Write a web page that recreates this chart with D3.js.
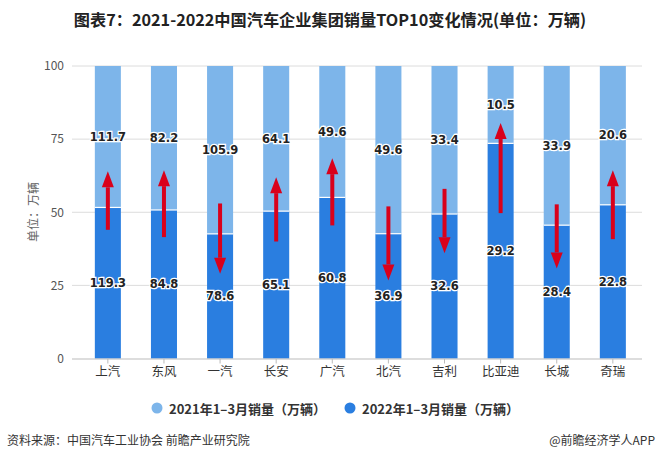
<!DOCTYPE html>
<html><head><meta charset="utf-8">
<script src="https://cdn.jsdelivr.net/npm/d3@7/dist/d3.min.js"></script>
<style>body{margin:0;background:#fff}svg{display:block}</style>
</head><body>
<svg id="c" width="659" height="462"></svg>
<script>
const categories = ["上汽","东风","一汽","长安","广汽","北汽","吉利","比亚迪","长城","奇瑞"];
const sales2021 = [111.7,82.2,105.9,64.1,49.6,49.6,33.4,10.5,33.9,20.6];
const sales2022 = [119.3,84.8,78.6,65.1,60.8,36.9,32.6,29.2,28.4,22.8];
const yTicks = [0,25,50,75,100];
// arrow annotations in percent units: [from, to]
const arrowFrom = [44,41.5,53,40,45.5,52,58,49.7,52.7,40.8];
const arrowTo   = [64,64.4,29,62,68.5,26.7,36,80.5,30.8,64.4];
const seriesNames = ["2021年1–3月销量（万辆）","2022年1–3月销量（万辆）"];
const colors = ["#7db5ea","#2a7ee0"];

const svg = d3.select("#c");
const font = "'Noto Sans CJK SC','Noto Sans',sans-serif";
svg.attr("font-family", font);

const x = d3.scaleBand().domain(categories).range([79.8,640.9]).paddingInner(0.536).paddingOuter(0.268);
const y = d3.scaleLinear().domain([0,100]).range([358.5,66]);

// title
svg.append("text").attr("x",330).attr("y",26).attr("text-anchor","middle")
  .attr("font-size",16.2).attr("font-weight","bold").attr("fill","#222")
  .text("图表7：2021-2022中国汽车企业集团销量TOP10变化情况(单位：万辆)");

// grid
svg.append("g").selectAll("line").data(yTicks.filter(d=>d>0)).join("line")
  .attr("x1",72).attr("x2",642).attr("y1",d=>y(d)).attr("y2",d=>y(d))
  .attr("stroke","#dcdcdc").attr("stroke-width",1);

// y axis labels
const yAxis = d3.axisLeft(y).tickValues(yTicks).tickSize(0).tickPadding(0);
const gy = svg.append("g").attr("transform","translate(64,0)").call(yAxis);
gy.select(".domain").remove();
gy.selectAll("text").attr("font-size",12).attr("fill","#555").attr("font-family",font);

svg.append("text").attr("transform","translate(38,212) rotate(-90)").attr("text-anchor","middle")
  .attr("font-size",12).attr("fill","#666").text("单位：万辆");

// data stacking as percent
const rows = categories.map((c,i)=>{
  const tot = sales2021[i]+sales2022[i];
  return {c, v21:sales2021[i], v22:sales2022[i], p22:sales2022[i]/tot*100};
});

const bars = svg.append("g");
bars.selectAll("rect.b22").data(rows).join("rect")
  .attr("x",d=>x(d.c)).attr("width",x.bandwidth())
  .attr("y",d=>y(d.p22)).attr("height",d=>y(0)-y(d.p22)).attr("fill",colors[1]);
bars.selectAll("rect.b21").data(rows).join("rect")
  .attr("x",d=>x(d.c)).attr("width",x.bandwidth())
  .attr("y",y(100)).attr("height",d=>y(d.p22)-y(100)).attr("fill",colors[0]);
bars.selectAll("line.sep").data(rows).join("line")
  .attr("x1",d=>x(d.c)).attr("x2",d=>x(d.c)+x.bandwidth())
  .attr("y1",d=>y(d.p22)).attr("y2",d=>y(d.p22)).attr("stroke","#fff").attr("stroke-width",1.2);

// x axis
const xAxis = d3.axisBottom(x).tickSize(5).tickPadding(4);
const gx = svg.append("g").attr("transform",`translate(0,${y(0)})`).call(xAxis);
gx.select(".domain").attr("d","M72,0.5H642").attr("stroke","#bbb");
gx.selectAll(".tick line").attr("stroke","#bbb");
gx.selectAll("text").attr("font-size",12.5).attr("fill","#333").attr("font-family",font);

// value labels
function label(sel){
  sel.attr("text-anchor","middle").attr("dominant-baseline","central")
    .attr("font-size",11.5).attr("font-weight","bold").attr("fill","#222")
    .attr("stroke","#fff").attr("stroke-width",2.5).attr("paint-order","stroke")
    .attr("font-family","'DejaVu Sans',sans-serif");
}
svg.append("g").selectAll("text").data(rows).join("text")
  .attr("x",d=>x(d.c)+x.bandwidth()/2).attr("y",d=>y((d.p22+100)/2))
  .text(d=>d.v21.toFixed(1)).call(label);
svg.append("g").selectAll("text").data(rows).join("text")
  .attr("x",d=>x(d.c)+x.bandwidth()/2).attr("y",d=>y(d.p22/2))
  .text(d=>d.v22.toFixed(1)).call(label);

// arrows
const ag = svg.append("g");
categories.forEach((c,i)=>{
  const cx = x(c)+x.bandwidth()/2;
  const y0 = y(arrowFrom[i]), y1 = y(arrowTo[i]);
  const dir = y1<y0 ? -1 : 1; // -1 up
  const hl = 16, hw = 6;
  const yb = y1 - dir*hl;
  ag.append("line").attr("x1",cx).attr("x2",cx).attr("y1",y0).attr("y2",yb)
    .attr("stroke","#d9001b").attr("stroke-width",4);
  ag.append("path").attr("d",`M${cx},${y1}L${cx-hw},${yb}L${cx+hw},${yb}Z`).attr("fill","#d9001b");
});

// legend
const lg = svg.append("g");
const lx = [157,350];
seriesNames.forEach((n,i)=>{
  lg.append("circle").attr("cx",lx[i]).attr("cy",408).attr("r",5.5).attr("fill",colors[i]);
  lg.append("text").attr("x",lx[i]+12).attr("y",408).attr("dominant-baseline","central")
    .attr("font-size",13).attr("font-weight","bold").attr("fill","#333").text(n);
});

// footer
svg.append("text").attr("x",7).attr("y",445).attr("font-size",12).attr("fill","#333")
  .text("资料来源：中国汽车工业协会 前瞻产业研究院");
svg.append("text").attr("x",655).attr("y",445).attr("text-anchor","end").attr("font-size",12).attr("fill","#333")
  .text("@前瞻经济学人APP");
</script>
</body></html>
